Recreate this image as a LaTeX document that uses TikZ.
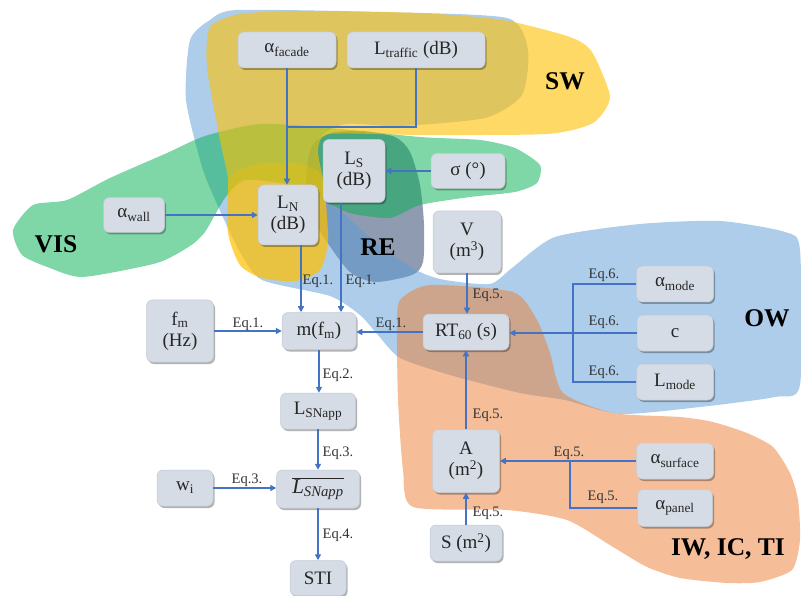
\documentclass[tikz,border=0pt]{standalone}
\usepackage{fontspec}
\setmainfont{Liberation Serif}
\usetikzlibrary{arrows.meta,shadows}
\definecolor{boxfill}{HTML}{D6DCE5}
\definecolor{boxedge}{HTML}{C3CAD5}
\definecolor{arrc}{HTML}{4472C4}
\definecolor{txt}{HTML}{262626}
\definecolor{eqc}{HTML}{333333}
\definecolor{cBlue}{HTML}{5B9BD5}
\definecolor{cYel}{HTML}{FFC000}
\definecolor{cGrn}{HTML}{00B050}
\definecolor{cOrg}{HTML}{ED7D31}
\definecolor{cRE}{HTML}{1F3864}
\tikzset{
  box/.style={fill=boxfill, draw=boxedge, line width=0.5pt, rounded corners=6pt,
    drop shadow={shadow xshift=1.5pt, shadow yshift=-2pt, opacity=0.3, fill=black},
    inner sep=0pt, align=center, font=\fontsize{19}{21}\selectfont, text=txt},
  conn/.style={draw=arrc, line width=1.4pt},
  arr/.style={conn, -{Triangle[length=6pt,width=6pt]}},
  eqlab/.style={font=\fontsize{14.5}{16}\selectfont, text=eqc, inner sep=0pt},
  grp/.style={font=\bfseries\fontsize{25.5}{28}\selectfont, inner sep=0pt, text=black},
  blob/.style={fill opacity=0.5, draw=none},
}
\begin{document}
\begin{tikzpicture}[x=1pt,y=-1pt]
\useasboundingbox (0,0) rectangle (801,596);
% ---- group regions ----
\fill[blob, cRE] plot[smooth cycle, tension=0.45] coordinates {(306,178) (312,146) (330,133) (362,131) (395,137) (410,152) (420,185) (424,225) (423,262) (412,275) (375,282) (350,272) (327,242) (310,213)};
\fill[blob, cBlue] plot[smooth cycle, tension=0.4] coordinates {(237,10) (380,12) (507,18) (528,50) (522,95) (485,118) (400,126) (345,124) (318,140) (315,190) (345,215) (385,250) (420,272) (445,280) (490,284) (512,268) (555,237) (640,224) (720,221) (785,232) (800,250) (800,385) (775,397) (700,407) (620,414) (565,400) (520,393) (450,375) (400,358) (378,335) (360,315) (330,296) (262,280) (240,252) (222,215) (203,170) (186,100) (190,40) (210,20)};
\fill[blob, cGrn] plot[smooth cycle, tension=0.4] coordinates {(13,230) (33,205) (67,200) (110,178) (167,153) (205,136) (260,124) (330,128) (420,137) (480,140) (515,148) (540,165) (537,183) (515,192) (470,197) (420,205) (390,218) (350,213) (322,200) (290,185) (245,180) (225,198) (205,232) (190,246) (157,263) (83,277) (50,268) (22,255)};
\fill[blob, cYel, fill opacity=0.6] plot[smooth cycle, tension=0.4] coordinates {(210,27) (240,14) (300,11) (420,13) (503,20) (570,37) (592,52) (610,97) (593,123) (547,134) (420,135) (330,134) (318,150) (324,185) (328,240) (320,270) (295,281) (262,278) (240,265) (228,232) (228,180) (220,140) (207,67)};
\fill[blob, cYel, fill opacity=0.3] plot[smooth cycle, tension=0.45] coordinates {(230,178) (258,164) (300,164) (322,177) (328,240) (320,270) (295,281) (262,278) (240,265) (228,232)};
\fill[blob, cOrg] plot[smooth cycle, tension=0.4] coordinates {(400,300) (430,285) (513,292) (537,320) (550,353) (563,393) (613,413) (680,417) (713,422) (747,433) (773,447) (790,473) (798,500) (800,540) (792,570) (760,582) (727,583) (680,578) (647,567) (613,547) (567,520) (507,510) (413,507) (403,470) (398,400) (397,330)};
% ---- group labels ----
\node[grp] (gSW) at (565,81) {SW};
\node[grp] (gVIS) at (56,244) {VIS};
\node[grp] (gRE) at (378,247) {RE};
\node[grp] (gOW) at (767,318) {OW};
\node[grp] (gIW) at (728,549) {IW, IC, TI};
% ---- boxes ----
\node[box, minimum width=98pt, minimum height=36pt] (af) at (287,50) {α\textsubscript{facade}};
\node[box, minimum width=138pt, minimum height=36pt] (lt) at (416,50) {L\textsubscript{traffic} (dB)};
\node[box, minimum width=62pt, minimum height=63pt] (ls) at (354,171) {L\textsubscript{S}\\(dB)};
\node[box, minimum width=74pt, minimum height=35pt] (sg) at (468,171) {σ (°)};
\node[box, minimum width=61pt, minimum height=35pt] (aw) at (134,215) {α\textsubscript{wall}};
\node[box, minimum width=60pt, minimum height=60pt] (ln) at (288,215) {L\textsubscript{N}\\(dB)};
\node[box, minimum width=68pt, minimum height=62pt] (v) at (467,242) {V\\(m\textsuperscript{3})};
\node[box, minimum width=77pt, minimum height=36pt] (am) at (675,284) {α\textsubscript{mode}};
\node[box, minimum width=76pt, minimum height=36pt] (c) at (675,333) {c};
\node[box, minimum width=77pt, minimum height=36pt] (lm) at (675,382) {L\textsubscript{mode}};
\node[box, minimum width=67pt, minimum height=62pt] (fm) at (180,331) {f\textsubscript{m}\\(Hz)};
\node[box, minimum width=74pt, minimum height=37pt] (m) at (319,331) {m(f\textsubscript{m})};
\node[box, minimum width=86pt, minimum height=36pt] (rt) at (466,332) {RT\textsubscript{60} (s)};
\node[box, minimum width=75pt, minimum height=36pt] (lsn) at (318,411) {L\textsubscript{SNapp}};
\node[box, minimum width=67pt, minimum height=63pt] (A) at (466,461) {A\\(m\textsuperscript{2})};
\node[box, minimum width=77pt, minimum height=36pt] (as) at (675,461) {α\textsubscript{surface}};
\node[box, minimum width=75pt, minimum height=37pt] (ap) at (675,508) {α\textsubscript{panel}};
\node[box, minimum width=56pt, minimum height=36pt] (w) at (185,488) {w\textsubscript{i}};
\node[box, minimum width=83pt, minimum height=38pt] (ov) at (318,489) {\fontsize{21}{23}\selectfont$\overline{\hbox{\textit{L}\textsubscript{\textit{SNapp}}}}$};
\node[box, minimum width=72pt, minimum height=36pt] (S) at (466,543) {S (m\textsuperscript{2})};
\node[box, minimum width=56pt, minimum height=35pt] (sti) at (318,578) {STI};
% ---- connectors ----
\coordinate (j1) at (288,127);
\draw[arr] (af.south) -- (af.south |- ln.north);
\draw[conn] (lt.south) |- (j1);
\draw[arr] (aw.east) -- (aw.east -| ln.west);
\draw[arr] (sg.west) -- (sg.west -| ls.east);
\draw[arr] ([xshift=13pt]ln.south) -- ([xshift=13pt]ln.south |- m.north);
\draw[arr] ([xshift=-13pt]ls.south) -- ([xshift=-13pt]ls.south |- m.north);
\draw[arr] (fm.east) -- (fm.east -| m.west);
\draw[arr] (rt.west) -- (rt.west -| m.east);
\draw[arr] (v.south) -- (v.south |- rt.north);
\coordinate (j2) at (573,333);
\draw[conn] (am.west) -| (j2);
\draw[conn] (lm.west) -| (j2);
\draw[arr] (c.west) -- (c.west -| rt.east);
\draw[arr] (A.north) -- (A.north |- rt.south);
\draw[arr] (S.north) -- (S.north |- A.south);
\coordinate (j3) at (570,461);
\draw[arr] (as.west) -- (as.west -| A.east);
\draw[conn] (ap.west) -| (j3);
\draw[arr] (m.south) -- (m.south |- lsn.north);
\draw[arr] (lsn.south) -- (lsn.south |- ov.north);
\draw[arr] (w.east) -- (w.east -| ov.west);
\draw[arr] (ov.south) -- (ov.south |- sti.north);
% ---- equation labels ----
\node[eqlab] (e1) at (318,281) {Eq.1.};
\node[eqlab] (e2) at (361,281) {Eq.1.};
\node[eqlab] (e3) at (248,324) {Eq.1.};
\node[eqlab] (e4) at (391,324) {Eq.1.};
\node[eqlab] (e5) at (338,375) {Eq.2.};
\node[eqlab] (e6) at (338,453) {Eq.3.};
\node[eqlab] (e7) at (247,480) {Eq.3.};
\node[eqlab] (e8) at (338,535) {Eq.4.};
\node[eqlab] (e9) at (488,295) {Eq.5.};
\node[eqlab] (e10) at (488,415) {Eq.5.};
\node[eqlab] (e11) at (488,513) {Eq.5.};
\node[eqlab] (e12) at (569,453) {Eq.5.};
\node[eqlab] (e13) at (603,497) {Eq.5.};
\node[eqlab] (e14) at (604,275) {Eq.6.};
\node[eqlab] (e15) at (604,322) {Eq.6.};
\node[eqlab] (e16) at (604,372) {Eq.6.};
\end{tikzpicture}
\end{document}
